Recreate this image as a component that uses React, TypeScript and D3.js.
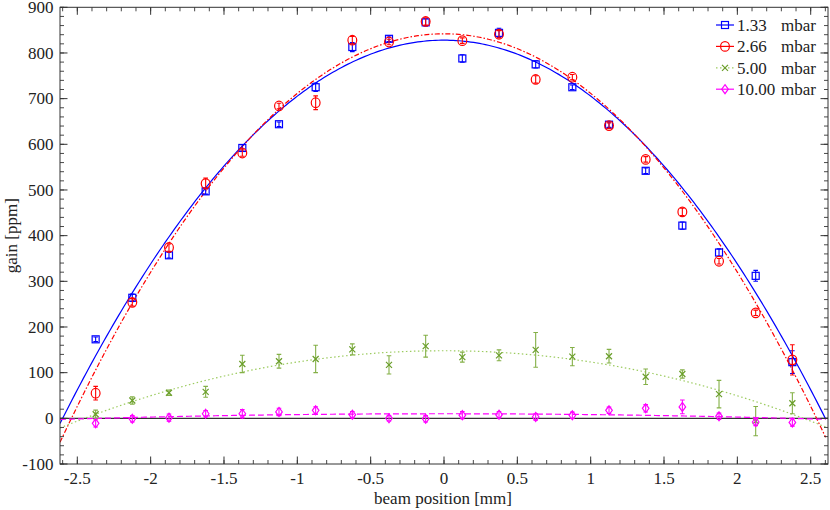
import React from "react";
import * as d3 from "d3";

// ---- data ----
const positions = [-2.375, -2.125, -1.875, -1.625, -1.375, -1.125, -0.875, -0.625, -0.375, -0.125,
  0.125, 0.375, 0.625, 0.875, 1.125, 1.375, 1.625, 1.875, 2.125, 2.375];

const gain133 = [173, 264, 357, 497, 592, 644, 725, 813, 831, 867, 788, 844, 775, 725, 643, 542, 422, 363, 312, 123];
const err133 = [5, 8, 6, 6, 7, 5, 9, 10, 6, 8, 8, 10, 8, 5, 6, 6, 8, 8, 12, 25];

const gain266 = [55, 254, 374, 514, 581, 684, 691, 828, 824, 869, 827, 841, 742, 747, 641, 567, 452, 344, 231, 128];
const err266 = [15, 8, 8, 12, 7, 6, 15, 8, 6, 8, 6, 8, 8, 6, 6, 6, 8, 6, 6, 33];

const gain500 = [9, 39, 56, 58, 119, 125, 130, 151, 117, 158, 134, 138, 150, 135, 136, 91, 97, 53, -6, 33];
const err500 = [9, 8, 6, 12, 19, 15, 30, 12, 20, 24, 11, 12, 38, 20, 15, 17, 9, 30, 32, 23];

const gain1000 = [-11, -1, 1.5, 10, 10, 14, 17.5, 8, 0, -1, 7, 8, 3, 6.6, 17.5, 22, 25, 4.4, -8, -9];
const err1000 = [8, 7, 8, 7, 9, 8, 8, 7, 6, 7, 8, 7, 7, 7, 7, 8, 15, 7, 8, 8];

// parabolic fit parameters: [peak, centre, half-width at zero]
const fit133 = [828, 0, 2.6];
const fit266 = [842, 0, 2.54];
const fit500 = [148, 0, 2.45];
const fit1000 = [10, 0, 2.35];

const legendNumbers = ["1.33", "2.66", "5.00", "10.00"];
const legendUnit = "mbar";

const xTicks = [-2.5, -2, -1.5, -1, -0.5, 0, 0.5, 1, 1.5, 2, 2.5];
const yTicks = [-100, 0, 100, 200, 300, 400, 500, 600, 700, 800, 900];

// ---- layout ----
const W = 830, H = 510;
const L = 60, R = 828, T = 7.3, B = 464;
const FONT = "'Liberation Serif', serif";
const FS = 17;
const AX = "#333";

const x = d3.scaleLinear().domain([-2.618, 2.618]).range([L, R]);
const y = d3.scaleLinear().domain([-100, 900]).range([B, T]);

type Marker = "square" | "circle" | "cross" | "diamond";

interface Series {
  name: string;
  vals: number[];
  errs: number[];
  fit: number[];
  color: string;
  errColor: string;
  lineColor: string;
  dash: string;
  marker: Marker;
  legendDash: string;
}

const series: Series[] = [
  { name: legendNumbers[0], vals: gain133, errs: err133, fit: fit133, color: "#0000ff", errColor: "#0000ff", lineColor: "#0000ff", dash: "", marker: "square", legendDash: "" },
  { name: legendNumbers[1], vals: gain266, errs: err266, fit: fit266, color: "#ff0000", errColor: "#ff0000", lineColor: "#ff0000", dash: "5,2,1.5,2", marker: "circle", legendDash: "" },
  { name: legendNumbers[2], vals: gain500, errs: err500, fit: fit500, color: "#6a9e2a", errColor: "#84b047", lineColor: "#9ccb5f", dash: "1.5,2.5", marker: "cross", legendDash: "1.5,2.5" },
  { name: legendNumbers[3], vals: gain1000, errs: err1000, fit: fit1000, color: "#ff00ff", errColor: "#ff00ff", lineColor: "#ff00ff", dash: "6,3", marker: "diamond", legendDash: "" },
];

function MarkerShape({ type, cx, cy, color }: { type: Marker; cx: number; cy: number; color: string }) {
  const sw = 1.2;
  if (type === "square") return <rect x={cx - 3.5} y={cy - 3.5} width={7} height={7} fill="none" stroke={color} strokeWidth={sw} />;
  if (type === "circle") return <ellipse cx={cx} cy={cy} rx={4.4} ry={4.8} fill="none" stroke={color} strokeWidth={sw} />;
  if (type === "cross")
    return (
      <path d={`M${cx - 3},${cy - 3}L${cx + 3},${cy + 3}M${cx - 3},${cy + 3}L${cx + 3},${cy - 3}`} stroke={color} strokeWidth={sw} fill="none" />
    );
  return <path d={`M${cx},${cy - 4.5}L${cx + 3.3},${cy}L${cx},${cy + 4.5}L${cx - 3.3},${cy}Z`} fill="none" stroke={color} strokeWidth={sw} />;
}

function fitCurve(p: number[]) {
  const xs = d3.range(-2.618, 2.6181, 0.02);
  const line = d3
    .line<number>()
    .x((v) => x(v))
    .y((v) => y(p[0] * (1 - ((v - p[1]) / p[2]) ** 2)));
  return line(xs) || "";
}

export default function App() {
  const xMinor = d3.range(-2.6, 2.6001, 0.1);
  const yMinor = d3.range(-100, 900.01, 20);
  return (
    <svg width={W} height={H} style={{ position: "absolute", left: 0, top: 0, background: "#fff" }} fontFamily={FONT}>
      <defs>
        <clipPath id="plot">
          <rect x={L} y={T} width={R - L} height={B - T} />
        </clipPath>
      </defs>
      {/* zero line */}
      <line x1={L} x2={R} y1={y(0)} y2={y(0)} stroke={AX} strokeWidth={1.3} />

      <g clipPath="url(#plot)">
        {series.map((s) => (
          <path key={"f" + s.name} d={fitCurve(s.fit)} fill="none" stroke={s.lineColor} strokeWidth={1.2} strokeDasharray={s.dash} />
        ))}
        {series.map((s) => (
          <g key={"p" + s.name}>
            {positions.map((px, i) => {
              const cx = x(px);
              const y1 = y(s.vals[i] + s.errs[i]);
              const y2 = y(s.vals[i] - s.errs[i]);
              return (
                <g key={i}>
                  <path
                    d={`M${cx},${y1}L${cx},${y2}M${cx - 2.3},${y1}L${cx + 2.3},${y1}M${cx - 2.3},${y2}L${cx + 2.3},${y2}`}
                    stroke={s.errColor}
                    strokeWidth={1.1}
                    fill="none"
                  />
                  <MarkerShape type={s.marker} cx={cx} cy={y(s.vals[i])} color={s.color} />
                </g>
              );
            })}
          </g>
        ))}
      </g>

      {/* frame */}
      <rect x={L} y={T} width={R - L} height={B - T} fill="none" stroke={AX} strokeWidth={1} />

      {/* x ticks */}
      {xMinor.map((v, i) => (
        <g key={"xm" + i} stroke={AX} strokeWidth={0.9}>
          <line x1={x(v)} x2={x(v)} y1={B} y2={B - 4} />
          <line x1={x(v)} x2={x(v)} y1={T} y2={T + 4} />
        </g>
      ))}
      {xTicks.map((v) => (
        <g key={"xt" + v}>
          <line x1={x(v)} x2={x(v)} y1={B} y2={B - 7.5} stroke={AX} strokeWidth={1} />
          <line x1={x(v)} x2={x(v)} y1={T} y2={T + 7.5} stroke={AX} strokeWidth={1} />
          <text x={x(v)} y={484} textAnchor="middle" fontSize={FS} fill="#222">
            {String(v)}
          </text>
        </g>
      ))}

      {/* y ticks */}
      {yMinor.map((v, i) => (
        <g key={"ym" + i} stroke={AX} strokeWidth={0.9}>
          <line x1={L} x2={L + 4} y1={y(v)} y2={y(v)} />
          <line x1={R} x2={R - 4} y1={y(v)} y2={y(v)} />
        </g>
      ))}
      {yTicks.map((v) => (
        <g key={"yt" + v}>
          <line x1={L} x2={L + 7.5} y1={y(v)} y2={y(v)} stroke={AX} strokeWidth={1} />
          <line x1={R} x2={R - 7.5} y1={y(v)} y2={y(v)} stroke={AX} strokeWidth={1} />
          <text x={53.5} y={y(v)} dy="0.34em" textAnchor="end" fontSize={FS} fill="#222">
            {String(v)}
          </text>
        </g>
      ))}

      {/* axis labels */}
      <text x={443} y={503.5} textAnchor="middle" fontSize={FS} fill="#222">
        beam position [mm]
      </text>
      <text transform={`translate(16.5,${(T + B) / 2}) rotate(-90)`} textAnchor="middle" fontSize={FS} fill="#222">
        gain [ppm]
      </text>

      {/* legend */}
      {series.map((s, i) => {
        const ly = 25 + i * 21.4;
        return (
          <g key={"lg" + s.name}>
            <line x1={716} x2={734} y1={ly} y2={ly} stroke={s.marker === "cross" ? s.lineColor : s.color} strokeWidth={1.2} strokeDasharray={s.legendDash} />
            <MarkerShape type={s.marker} cx={725} cy={ly} color={s.color} />
            <text x={737} y={ly} dy="0.34em" fontSize={FS} fill="#222">
              {s.name}
            </text>
            <text x={781} y={ly} dy="0.34em" fontSize={FS} fill="#222">
              {legendUnit}
            </text>
          </g>
        );
      })}
    </svg>
  );
}
